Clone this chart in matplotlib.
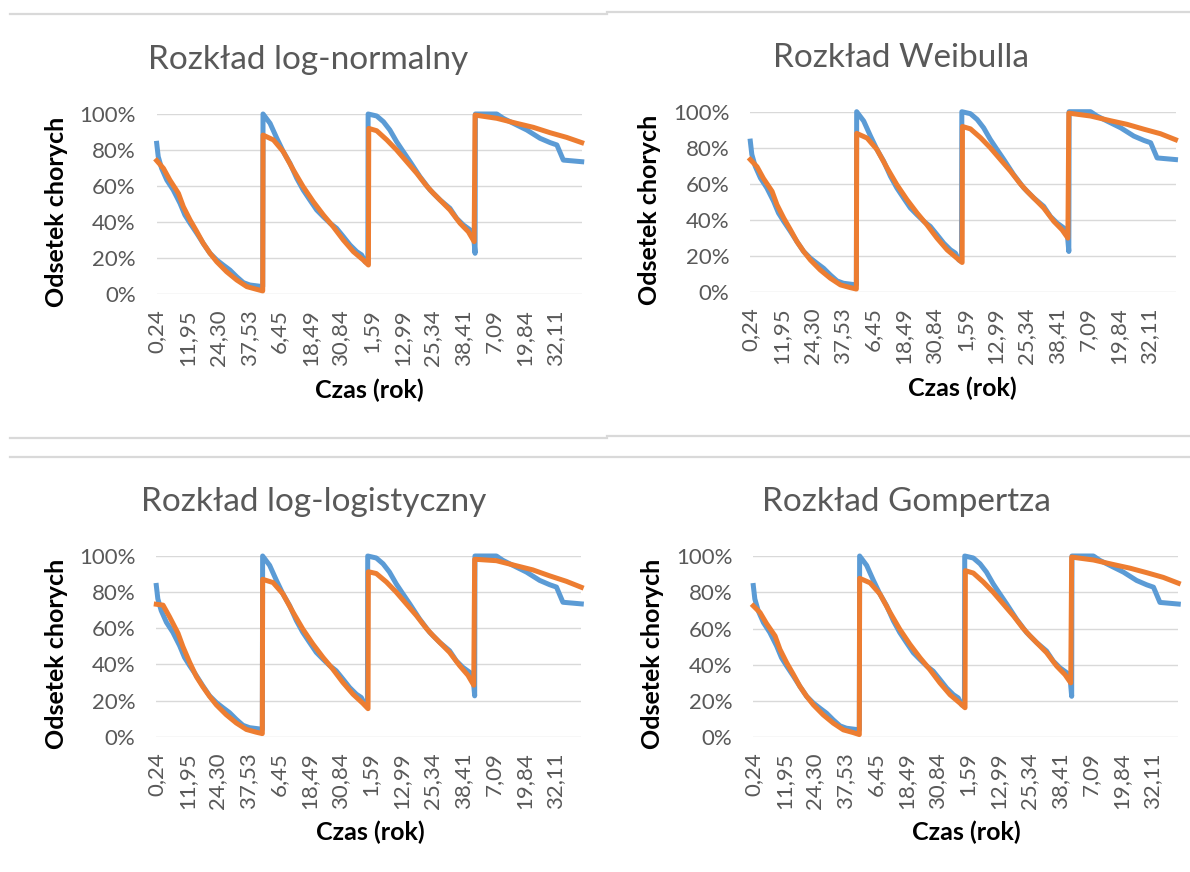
import matplotlib
matplotlib.use('Agg')
import matplotlib.pyplot as plt
from matplotlib.lines import Line2D
from matplotlib.ticker import PercentFormatter

W, H = 1190, 872

# x axis: observation index (categories), labels every 10 observations
TICK_POS = [0, 10, 20, 30, 40, 50, 60, 70, 80, 90, 100, 110, 120, 130]
TICK_LABELS = ['0,24', '11,95', '24,30', '37,53', '6,45', '18,49', '30,84',
               '1,59', '12,99', '25,34', '38,41', '7,09', '19,84', '32,11']
X_END = 138.7

BLUE_POS = [0, 0.5, 1.6, 3.3, 5.4, 7.6, 9.2, 10.9, 13.1, 15.2, 17.4, 19.6, 21.7, 23.9,
            26.1, 28.3, 30.4, 33.2, 34.6,
            34.7, 37.0, 39.2, 41.3, 43.5, 45.7, 47.8, 50.0, 52.2, 54.4, 56.6, 58.7,
            60.9, 63.1, 65.3, 66.9, 68.0, 68.9,
            69.0, 71.8, 74.0, 76.1, 78.3, 80.5, 82.7, 85.9, 89.2, 92.5, 95.7, 97.9,
            100.1, 102.3, 103.3, 103.9,
            104.0, 111.0, 113.1, 116.4, 120.8, 125.1, 128.4, 130.6, 132.7, X_END]
BLUE_VAL = [83.7, 76.3, 69.8, 63.3, 57.8, 50.4, 43.9, 39.3, 33.7, 28.1, 22.6, 18.9, 16.1, 13.3,
            9.6, 6.3, 5.0, 4.4, 4.1,
            100, 94.8, 86.5, 79.1, 72.6, 64.3, 57.8, 52.2, 46.7, 42.9, 39.3, 36.5,
            31.9, 27.2, 23.5, 21.7, 17.9, 17.0,
            100, 98.9, 95.7, 91.1, 84.6, 79.0, 73.5, 65.2, 57.8, 52.2, 47.6, 42.0,
            38.3, 35.6, 34.5, 22.6,
            100, 100, 97.6, 94.8, 91.1, 86.5, 84.1, 82.8, 74.4, 73.5]

# fitted model curves (orange), same observation positions for every model
FIT_POS = [0, 2.2, 4.3, 7.1, 8.7, 10.9, 13.1, 15.2, 17.4, 19.6, 22.8, 26.1, 29.4, 32.6, 34.6,
           34.7, 38.1, 41.3, 44.6, 47.8, 51.1, 54.4, 57.6, 60.9, 64.2, 67.4, 69.1,
           69.2, 71.8, 75.1, 78.3, 81.6, 84.9, 88.1, 90.3, 95.7, 99.0, 101.7, 103.6,
           103.9, 111.0, 117.5, 122.9, 128.4, 133.8, X_END]
FIT_LOGNORMAL = [74.1, 69.8, 63.3, 55.9, 48.5, 41.1, 34.6, 28.1, 22.6, 17.9, 12.4, 7.8, 4.1, 2.6, 1.7,
                 88.3, 85.6, 79.1, 68.9, 59.6, 51.3, 43.9, 37.4, 30.0, 23.5, 18.9, 16.1,
                 92.0, 90.7, 85.6, 80.0, 73.5, 67.0, 60.0, 55.9, 46.7, 39.3, 34.6, 29.1,
                 99.4, 97.6, 94.8, 92.6, 89.6, 87.0, 84.1]
FIT_WEIBULL = [73.5, 69.5, 63.0, 55.9, 48.5, 41.1, 34.6, 28.1, 22.6, 17.9, 12.4, 7.8, 4.1, 2.6, 1.8,
               88.0, 85.4, 79.1, 68.9, 59.6, 51.3, 43.9, 37.4, 30.0, 23.5, 18.9, 16.5,
               91.8, 90.5, 85.6, 80.0, 73.5, 67.0, 60.0, 55.9, 46.7, 39.3, 34.6, 30.0,
               99.2, 97.6, 95.0, 93.0, 90.3, 87.8, 84.5]
FIT_LOGLOGISTIC = [73.3, 72.8, 66.4, 57.2, 49.8, 41.1, 33.2, 27.6, 22.3, 17.6, 12.2, 7.6, 4.0, 2.5, 1.7,
                   87.1, 85.3, 79.1, 68.9, 59.6, 51.3, 43.9, 37.4, 30.0, 23.5, 18.5, 15.5,
                   91.3, 90.3, 85.6, 80.0, 73.5, 67.0, 60.0, 55.9, 46.7, 39.3, 34.0, 28.5,
                   98.2, 97.4, 94.6, 92.3, 89.0, 86.0, 82.7]
FIT_GOMPERTZ = [72.5, 68.8, 62.8, 55.9, 48.5, 41.1, 34.6, 28.1, 22.6, 17.9, 12.4, 7.8, 4.1, 2.6, 1.5,
                87.7, 85.2, 79.1, 68.9, 59.6, 51.3, 43.9, 37.4, 30.0, 23.5, 18.9, 16.3,
                91.9, 90.6, 85.6, 80.0, 73.5, 67.0, 60.0, 55.9, 46.7, 39.3, 34.6, 30.0,
                99.4, 97.8, 95.3, 93.3, 90.8, 88.2, 85.0]

TITLES = ['Rozkład log-normalny', 'Rozkład Weibulla', 'Rozkład log-logistyczny', 'Rozkład Gompertza']
FITS = [FIT_LOGNORMAL, FIT_WEIBULL, FIT_LOGLOGISTIC, FIT_GOMPERTZ]

BLUE = '#5B9BD5'
ORANGE = '#ED7D31'
GRAY = '#595959'
FONT = 'Lato'

# plot areas in pixels: left, top, right, bottom
AREAS = [(156.7, 114, 581.7, 294), (750.3, 111.7, 1175.5, 292.3),
         (156.3, 556, 581.3, 736.7), (753.3, 556, 1178.3, 737.3)]
TITLE_XY = [(308, 60), (901, 58), (314, 502), (906, 502)]
YLAB_XY = [(57, 212), (650, 210), (57, 654), (652, 654)]
XLAB_XY = [(369, 390), (962, 388), (370, 832), (966, 832)]

fig = plt.figure(figsize=(W / 100, H / 100), dpi=100)

for i in range(4):
    l, t, r, b = AREAS[i]
    ax = fig.add_axes([l / W, 1 - b / H, (r - l) / W, (b - t) / H])
    ax.plot(BLUE_POS, BLUE_VAL, color=BLUE, lw=3.6, clip_on=False, solid_joinstyle='round')
    ax.plot(FIT_POS, FITS[i], color=ORANGE, lw=3.6, clip_on=False, solid_joinstyle='round')
    ax.set_xlim(0, X_END)
    ax.set_ylim(0, 100)
    ax.set_yticks([0, 20, 40, 60, 80, 100])
    ax.yaxis.set_major_formatter(PercentFormatter(xmax=100, decimals=0))
    ax.set_xticks(TICK_POS)
    ax.set_xticklabels(TICK_LABELS, rotation=90)
    ax.tick_params(length=0, labelsize=16, labelcolor=GRAY)
    ax.tick_params(axis='y', pad=15)
    ax.tick_params(axis='x', pad=11)
    for lab in ax.get_xticklabels() + ax.get_yticklabels():
        lab.set_fontfamily(FONT)
    ax.yaxis.grid(True, color='#D9D9D9', lw=1)
    ax.set_axisbelow(True)
    for s in ax.spines.values():
        s.set_visible(False)

    tx, ty = TITLE_XY[i]
    fig.text(tx / W, 1 - ty / H, TITLES[i], ha='center', va='center',
             fontsize=24, color=GRAY, family=FONT)
    yx, yy = YLAB_XY[i]
    fig.text(yx / W, 1 - yy / H, 'Odsetek chorych', rotation=90, ha='center', va='center',
             fontsize=18, fontweight='bold', family=FONT)
    xx, xy = XLAB_XY[i]
    fig.text(xx / W, 1 - xy / H, 'Czas (rok)', ha='center', va='center',
             fontsize=18, fontweight='bold', family=FONT)

# chart frame lines
SEP = [((10, 607), (14, 14)), ((607, 1190), (12, 12)), ((10, 607), (438, 438)),
       ((607, 1190), (436, 436)), ((10, 1190), (457, 457))]
for xs, ys in SEP:
    fig.add_artist(Line2D([x / W for x in xs], [1 - y / H for y in ys], color='#D9D9D9', lw=1.6))

fig.savefig('out.png', dpi=100)
